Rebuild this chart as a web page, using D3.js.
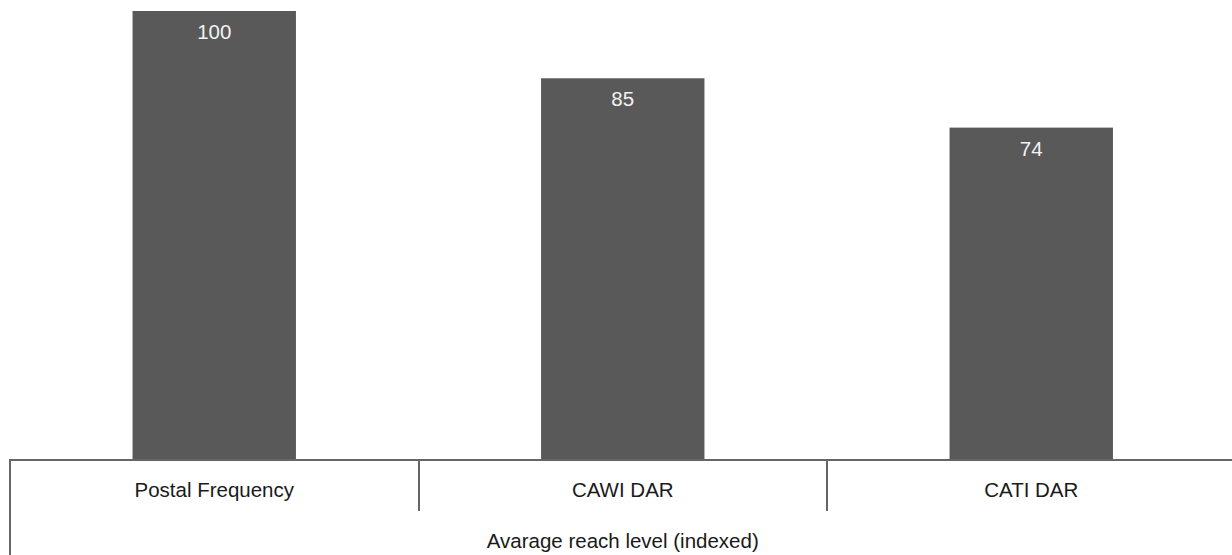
<!DOCTYPE html>
<html><head><meta charset="utf-8">
<script src="https://cdn.jsdelivr.net/npm/d3@7"></script>
<style>html,body{margin:0;padding:0;background:#fff;}svg{display:block;}</style>
</head><body>
<svg id="c" width="1232" height="555"></svg>
<script>
const categories = ["Postal Frequency", "CAWI DAR", "CATI DAR"];
const values = [100, 85, 74];
const axisTitle = "Avarage reach level (indexed)";

const svg = d3.select("#c");
const font = "'Liberation Sans', Arial, sans-serif";
const fs = 20.5;
const baseY = 459.5;
const x = d3.scaleBand().domain(categories).range([10, 1235.5]).paddingInner(0.6).paddingOuter(0.3);
const y = d3.scaleLinear().domain([0, 100]).range([baseY, 11]);
const step = x.step();

svg.selectAll("rect.bar").data(values).join("rect")
  .attr("class", "bar")
  .attr("x", (d, i) => x(categories[i]))
  .attr("y", d => y(d))
  .attr("width", x.bandwidth())
  .attr("height", d => baseY - y(d))
  .attr("fill", "#595959");

svg.selectAll("text.val").data(values).join("text")
  .attr("class", "val")
  .attr("x", (d, i) => x(categories[i]) + x.bandwidth() / 2)
  .attr("y", d => y(d) + 28)
  .attr("text-anchor", "middle")
  .attr("font-family", font).attr("font-size", fs)
  .attr("fill", "#f2f2f2")
  .text(d => d);

// axis line
svg.append("line").attr("x1", 10).attr("x2", 1232).attr("y1", 460).attr("y2", 460)
  .attr("stroke", "#666").attr("stroke-width", 2);
// boundary ticks
categories.forEach((c, i) => {
  const bx = Math.round(10 + i * step);
  svg.append("line").attr("x1", bx).attr("x2", bx).attr("y1", 459).attr("y2", i === 0 ? 555 : 511)
    .attr("stroke", "#666").attr("stroke-width", 2);
});

svg.selectAll("text.cat").data(categories).join("text")
  .attr("class", "cat")
  .attr("x", d => x(d) + x.bandwidth() / 2)
  .attr("y", 497)
  .attr("text-anchor", "middle")
  .attr("font-family", font).attr("font-size", fs)
  .attr("fill", "#1a1a1a")
  .text(d => d);

svg.append("text")
  .attr("x", 10 + 1.5 * step)
  .attr("y", 548)
  .attr("text-anchor", "middle")
  .attr("font-family", font).attr("font-size", fs)
  .attr("fill", "#1a1a1a")
  .text(axisTitle);
</script>
</body></html>
